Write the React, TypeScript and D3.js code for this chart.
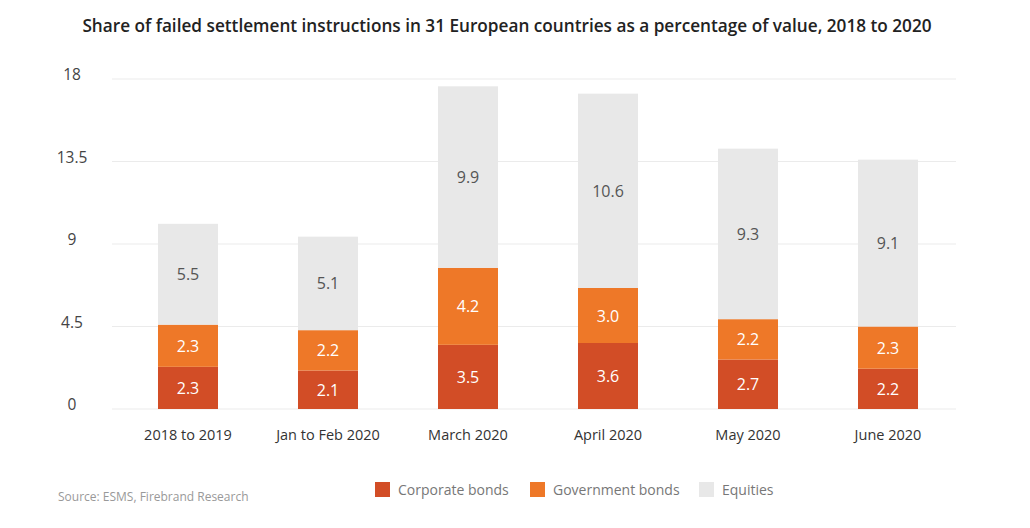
import React from "react";
import * as d3 from "d3";

const categories = ["2018 to 2019", "Jan to Feb 2020", "March 2020", "April 2020", "May 2020", "June 2020"];
const corporate = [2.3, 2.1, 3.5, 3.6, 2.7, 2.2];
const government = [2.3, 2.2, 4.2, 3.0, 2.2, 2.3];
const equities = [5.5, 5.1, 9.9, 10.6, 9.3, 9.1];
const seriesNames = ["Corporate bonds", "Government bonds", "Equities"];
const yTicks = [0, 4.5, 9, 13.5, 18];

const colors = ["#D24D26", "#EE7828", "#E8E8E8"];
const labelColors = ["#FFFFFF", "#FFFFFF", "#555555"];
const FONT = "'Open Sans', sans-serif";

export default function App() {
  const W = 1030, H = 528;
  const x = d3.scaleBand().domain(categories).range([118, 958]).paddingInner(0.5715).paddingOuter(0.2857);
  const y = d3.scaleLinear().domain([0, 18]).range([409, 79]);
  const rows = categories.map((c, i) => ({ cat: c, corporate: corporate[i], government: government[i], equities: equities[i] }));
  const stack = d3.stack<any>().keys(["corporate", "government", "equities"]);
  const layers = stack(rows);
  const bw = 60;
  return (
    <svg width={W} height={H} style={{ position: "absolute", left: 0, top: 0, background: "#fff" }} fontFamily={FONT}>
      <text x={507} y={32} textAnchor="middle" fontSize={17.2} fontWeight={600} fill="#222">
        Share of failed settlement instructions in 31 European countries as a percentage of value, 2018 to 2020
      </text>
      {yTicks.map((t) => (
        <g key={t}>
          <line x1={112} x2={956} y1={y(t)} y2={y(t)} stroke="#EBEBEB" strokeWidth={1} />
          <text x={72} y={y(t) + 1} textAnchor="middle" fontSize={15.5} fill="#444">{t}</text>
        </g>
      ))}
      {layers.map((layer, li) => (
        <g key={li}>
          {layer.map((d, i) => {
            const cx = (x(categories[i]) as number) + x.bandwidth() / 2;
            const y0 = y(d[0]), y1 = y(d[1]);
            const val = [corporate, government, equities][li][i];
            return (
              <g key={i}>
                <rect x={cx - bw / 2} y={y1} width={bw} height={y0 - y1} fill={colors[li]} />
                <text x={cx} y={(y0 + y1) / 2 + 6} textAnchor="middle" fontSize={16} fill={labelColors[li]}>
                  {val.toFixed(1)}
                </text>
              </g>
            );
          })}
        </g>
      ))}
      {categories.map((c) => (
        <text key={c} x={(x(c) as number) + x.bandwidth() / 2} y={440} textAnchor="middle" fontSize={14.5} fill="#333">{c}</text>
      ))}
      {seriesNames.map((s, i) => {
        const lx = [375, 530, 699][i];
        return (
          <g key={s}>
            <rect x={lx} y={482} width={15} height={15} fill={colors[i]} />
            <text x={lx + 23} y={495} fontSize={14} fill="#777">{s}</text>
          </g>
        );
      })}
      <text x={58} y={501} fontSize={12} fill="#999">Source: ESMS, Firebrand Research</text>
    </svg>
  );
}
